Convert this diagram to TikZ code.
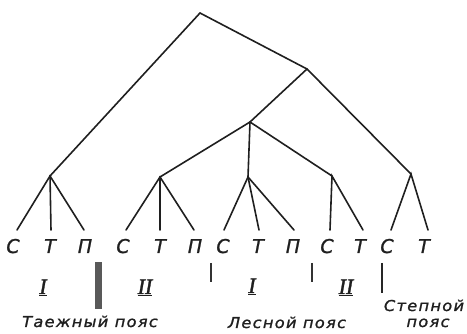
\documentclass[tikz,border=0pt]{standalone}
\usepackage{fontspec}
\usepackage{graphicx}
\newfontfamily\gost[LetterSpace=8,FakeBold=1.2]{DejaVu Sans}
\newfontfamily\romfont[FakeBold=1.5]{Liberation Serif}
\newcommand{\zlbl}[1]{\scalebox{1.08}[1]{#1}}
\begin{document}
\begin{tikzpicture}[x=1pt,y=-1pt,
  br/.style={line width=1.6pt, draw=black!88, line cap=round},
  leafname/.style={font=\gost\itshape\fontsize{19}{19}\selectfont, inner sep=0pt, anchor=base, text=black!88},
  zonename/.style={font=\gost\itshape\fontsize{15}{15}\selectfont, inner sep=0pt, anchor=base, text=black!88},
  romname/.style={font=\romfont\itshape\fontsize{22}{22}\selectfont, inner sep=0pt, anchor=base, text=black!88},
  thinbar/.style={line width=1.6pt, draw=black!80},
  thickbar/.style={fill=black!65, draw=none}]
\useasboundingbox (0,0) rectangle (467,334);
% branching points
\coordinate (r) at (200,13);
\coordinate (a) at (307,69);
\coordinate (b) at (250,122);
\coordinate (g1) at (50,176);
\coordinate (g2) at (160,177);
\coordinate (g3) at (248,177);
\coordinate (g4) at (332,176);
\coordinate (g5) at (411,174);
% leaf ends
\coordinate (l1) at (17,230);
\coordinate (l2) at (51,230);
\coordinate (l3) at (84,230);
\coordinate (l4) at (126,230);
\coordinate (l5) at (160,230);
\coordinate (l6) at (194,230);
\coordinate (l7) at (224,230);
\coordinate (l8) at (259,230);
\coordinate (l9) at (294,230);
\coordinate (l10) at (330,230);
\coordinate (l11) at (363,230);
\coordinate (l12) at (391,230);
\coordinate (l13) at (428,230);
% tree
\draw[br] (g1) -- (r) -- (a) -- (g5);
\draw[br] (a) -- (b) -- (g3);
\draw[br] (g2) -- (b) -- (g4);
\draw[br] (l1) -- (g1) -- (l3);
\draw[br] (g1) -- (l2);
\draw[br] (l4) -- (g2) -- (l6);
\draw[br] (g2) -- (l5);
\draw[br] (l7) -- (g3) -- (l9);
\draw[br] (g3) -- (l8);
\draw[br] (l10) -- (g4) -- (l11);
\draw[br] (l12) -- (g5) -- (l13);
% leaf names
\node[leafname] (n1) at (13,253) {С};
\node[leafname] (n2) at (50,253) {Т};
\node[leafname] (n3) at (85,253) {П};
\node[leafname] (n4) at (123,253) {С};
\node[leafname] (n5) at (160,253) {Т};
\node[leafname] (n6) at (195,253) {П};
\node[leafname] (n7) at (223,253) {С};
\node[leafname] (n8) at (258,253) {Т};
\node[leafname] (n9) at (293,253) {П};
\node[leafname] (n10) at (327,253) {С};
\node[leafname] (n11) at (360,253) {Т};
\node[leafname] (n12) at (387,253) {С};
\node[leafname] (n13) at (424,253) {Т};
% roman numerals
\node[romname] (rm1) at (43,294) {\underline{I}};
\node[romname] (rm2) at (145,294) {\underline{II}};
\node[romname] (rm3) at (252,293) {\underline{I}};
\node[romname] (rm4) at (346,294) {\underline{II}};
% separators
\fill[thickbar] (95,262) rectangle (102,309);
\draw[thinbar] (211,263) -- (211,282);
\draw[thinbar] (312,263) -- (312,282);
\draw[line width=2.8pt, draw=black!85] (382,263) -- (382,293);
% zone names
\node[zonename] (z1) at (90,327) {\zlbl{Таежный пояс}};
\node[zonename] (z2) at (287,328) {\zlbl{Лесной пояс}};
\node[zonename] (z3) at (424,311) {\zlbl{Степной}};
\node[zonename] (z4) at (428,327) {\zlbl{пояс}};
\end{tikzpicture}
\end{document}
